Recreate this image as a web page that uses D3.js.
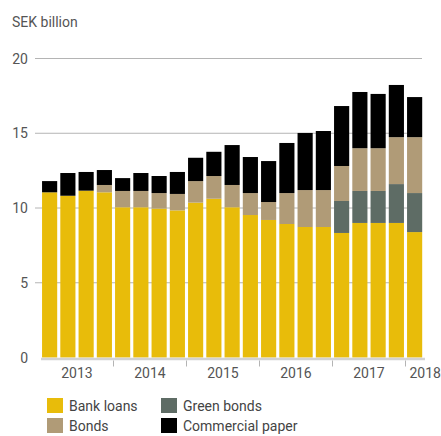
<!DOCTYPE html>
<html>
<head>
<meta charset="utf-8">
<script src="https://cdn.jsdelivr.net/npm/d3@7"></script>
<style>
  body { margin: 0; background: #fff; }
  text { font-family: Roboto, "DejaVu Sans", sans-serif; }
</style>
</head>
<body>
<script>
// quarters, Q1 2013 .. Q1 2018
var quarters = ["2013 Q1","2013 Q2","2013 Q3","2013 Q4",
                "2014 Q1","2014 Q2","2014 Q3","2014 Q4",
                "2015 Q1","2015 Q2","2015 Q3","2015 Q4",
                "2016 Q1","2016 Q2","2016 Q3","2016 Q4",
                "2017 Q1","2017 Q2","2017 Q3","2017 Q4",
                "2018 Q1"];
var years = ["2013","2014","2015","2016","2017","2018"];

var bankLoans       = [11.05,10.82,11.16,11.05,10.05,10.05,9.96,9.84,10.36,10.62,10.05,9.53,9.2,8.93,8.73,8.73,8.33,9.0,9.0,9.0,8.39];
var greenBonds      = [0,0,0,0,0,0,0,0,0,0,0,0,0,0,0,0,2.14,2.14,2.14,2.6,2.61];
var bonds           = [0,0,0,0.49,1.09,1.09,1.04,1.1,1.44,1.52,1.49,1.47,1.2,2.07,2.47,2.47,2.34,2.86,2.86,3.14,3.74];
var commercialPaper = [0.75,1.52,1.25,1.0,0.86,1.2,1.14,1.47,1.56,1.62,2.67,2.41,2.74,3.35,3.82,3.95,4.01,3.76,3.63,3.49,2.68];

var yTicks = [0, 5, 10, 15, 20];

var seriesKeys = ["Bank loans", "Green bonds", "Bonds", "Commercial paper"];
var colors = {"Bank loans": "#e8bc0a", "Green bonds": "#5e6c65", "Bonds": "#b09b77", "Commercial paper": "#000000"};

// build table for the stack
var table = quarters.map(function(q, i) {
  return {quarter: q, "Bank loans": bankLoans[i], "Green bonds": greenBonds[i],
          "Bonds": bonds[i], "Commercial paper": commercialPaper[i]};
});

var width = 441, height = 436;

var svg = d3.select("body")
  .append("svg")
    .attr("width", width)
    .attr("height", height);

var x = d3.scaleBand()
  .domain(quarters)
  .range([40.5, 423.75])
  .paddingInner(0.17)
  .paddingOuter(0.085);

var y = d3.scaleLinear()
  .domain([0, 20])
  .range([357.5, 58.5]);

// unit label
svg.append("text")
  .attr("x", 12)
  .attr("y", 27)
  .attr("font-size", 14)
  .attr("fill", "#555")
  .text("SEK billion");

// grid lines + y labels
svg.append("g").selectAll("line")
  .data(yTicks.filter(function(d) { return d > 0; }))
  .enter().append("line")
    .attr("x1", 35)
    .attr("x2", 422)
    .attr("y1", function(d) { return y(d); })
    .attr("y2", function(d) { return y(d); })
    .attr("stroke", "#b4b4b4")
    .attr("stroke-width", 1);

svg.append("g").selectAll("text")
  .data(yTicks)
  .enter().append("text")
    .attr("x", 28)
    .attr("y", function(d) { return y(d) + 5; })
    .attr("text-anchor", "end")
    .attr("font-size", 14)
    .attr("fill", "#555")
    .text(function(d) { return d; });

// stacked bars
var stack = d3.stack().keys(seriesKeys);
var layers = stack(table);

svg.append("g").selectAll("g")
  .data(layers)
  .enter().append("g")
    .attr("fill", function(d) { return colors[d.key]; })
  .selectAll("rect")
  .data(function(d) { return d; })
  .enter().append("rect")
    .attr("x", function(d) { return x(d.data.quarter); })
    .attr("y", function(d) { return y(d[1]); })
    .attr("width", x.bandwidth())
    .attr("height", function(d) { return y(d[0]) - y(d[1]); });

// baseline
svg.append("line")
  .attr("x1", 41)
  .attr("x2", 425)
  .attr("y1", y(0) + 1.5)
  .attr("y2", y(0) + 1.5)
  .attr("stroke", "#d2d2d2")
  .attr("stroke-width", 2.5);

// year separators and labels
var gap = x.step() * x.paddingInner() / 2;
var yearInfo = years.map(function(yr) {
  var qs = quarters.filter(function(q) { return q.slice(0, 4) === yr; });
  var first = x(qs[0]), last = x(qs[qs.length - 1]) + x.bandwidth();
  return {year: yr, start: first - gap, mid: (first + last) / 2, count: qs.length};
});

svg.append("g").selectAll("line")
  .data(yearInfo.slice(1))
  .enter().append("line")
    .attr("x1", function(d) { return d.start; })
    .attr("x2", function(d) { return d.start; })
    .attr("y1", y(0) + 3)
    .attr("y2", y(0) + 9)
    .attr("stroke", "#b4b4b4")
    .attr("stroke-width", 1);

svg.append("g").selectAll("text")
  .data(yearInfo)
  .enter().append("text")
    .attr("x", function(d) { return d.count < 4 ? d.start + 4 : d.mid; })
    .attr("y", 378)
    .attr("text-anchor", function(d) { return d.count < 4 ? "start" : "middle"; })
    .attr("font-size", 14)
    .attr("fill", "#555")
    .text(function(d) { return d.year; });

// legend
var legendItems = [
  {key: "Bank loans", col: 0, row: 0},
  {key: "Bonds", col: 0, row: 1},
  {key: "Green bonds", col: 1, row: 0},
  {key: "Commercial paper", col: 1, row: 1}
];

var legend = svg.append("g").selectAll("g")
  .data(legendItems)
  .enter().append("g")
    .attr("transform", function(d) {
      return "translate(" + (47 + d.col * 114) + "," + (398 + d.row * 20) + ")";
    });

legend.append("rect")
  .attr("width", 16)
  .attr("height", 15)
  .attr("fill", function(d) { return colors[d.key]; });

legend.append("text")
  .attr("x", 22)
  .attr("y", 13)
  .attr("font-size", 14)
  .attr("fill", "#444")
  .text(function(d) { return d.key; });
</script>
</body>
</html>
